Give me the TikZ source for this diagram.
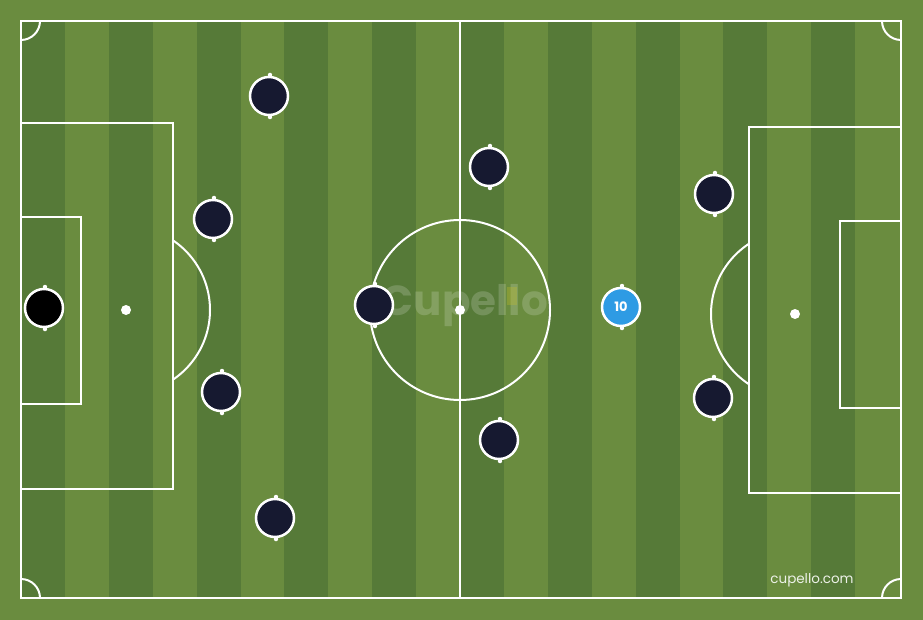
\documentclass[tikz,border=0pt]{standalone}
\usepackage{fontspec}
\setmainfont{Poppins}
\usepackage{tikz}
\usetikzlibrary{calc}

\definecolor{grasslight}{RGB}{106,140,63}
\definecolor{grassdark}{RGB}{86,122,56}
\definecolor{shirtnavy}{RGB}{22,25,48}
\definecolor{shirtblue}{RGB}{46,155,228}
\definecolor{logoyellow}{RGB}{200,190,40}

\tikzset{
  line/.style={white, line width=2pt},
  player/.style={circle, draw=white, line width=2.5pt, fill=shirtnavy,
    minimum size=38pt, inner sep=0pt, text=white, font=\bfseries\fontsize{13}{13}\selectfont},
  keeper/.style={player, fill=black},
  star/.style={player, fill=shirtblue}
}

\begin{document}
\begin{tikzpicture}[x=1pt,y=-1pt]
        \useasboundingbox (0,0) rectangle (923,620);
        \fill[grasslight] (0,0) rectangle (923,620);

        % stripes
        \foreach \i in {0,...,9}
          \fill[grassdark] ({21+87.8*\i},21) rectangle ({64.9+87.8*\i},598);

        \coordinate (TL) at (21,21);
        \coordinate (BR) at (901,598);
        \coordinate (C) at (460,310); % centre spot
        \coordinate (PL) at (126,310); % penalty spot left
        \coordinate (PR) at (795,314); % penalty spot right

        % outline and halfway line
        \draw[line] (TL) rectangle (BR);
        \draw[line] (460,21) -- (460,598);

        % corners
        \begin{scope}
          \clip (TL) rectangle (BR);
          \foreach \p in {(21,21),(901,21),(21,598),(901,598)}
            \draw[line] \p circle (19pt);
        \end{scope}

        % centre circle
        \draw[line] (C) circle (90pt);
        \fill[white] (C) circle (5pt);

        % left box
        \draw[line] (21,123) rectangle (173,489);
        \draw[line] (21,217) rectangle (81,404);
        \fill[white] (PL) circle (5pt);
        \begin{scope}
          \clip (173,0) rectangle (923,620);
          \draw[line] (PL) circle (84pt);
        \end{scope}

        % right box
        \draw[line] (901,127) rectangle (749,493);
        \draw[line] (901,221) rectangle (840,408);
        \fill[white] (PR) circle (5pt);
        \begin{scope}
          \clip (0,0) rectangle (749,620);
          \draw[line] (PR) circle (84pt);
        \end{scope}

        % watermark
        \node[white, opacity=0.18, font=\bfseries\fontsize{42}{42}\selectfont] (logo) at (465,306) {Cupello};
        \fill[logoyellow, opacity=0.3] (507,287) rectangle (517,305);
        \node[white!88!grasslight, font=\fontsize{13.5}{13.5}\selectfont] (site) at (812,580) {cupello.com};

        % players
        \node[keeper] (gk) at (44,308) {};
        \node[player] (p2) at (269,96) {};
        \node[player] (p3) at (213,219) {};
        \node[player] (p4) at (374,305) {};
        \node[player] (p5) at (221,392) {};
        \node[player] (p6) at (275,518) {};
        \node[player] (p7) at (489,167) {};
        \node[player] (p8) at (499,440) {};
        \node[player] (p9) at (714,194) {};
        \node[player] (p11) at (713,398) {};
        \node[star] (p10) at (621,307) {10};

        % little marks on top and bottom of each player
        \foreach \n in {gk,p2,p3,p4,p5,p6,p7,p8,p9,p11,p10} {
          \fill[white] ($(\n.north)+(1pt,0.8pt)$) circle (2.2pt);
          \fill[white] ($(\n.south)+(1pt,-0.8pt)$) circle (2.2pt);
        }

    \end{tikzpicture}
\end{document}
